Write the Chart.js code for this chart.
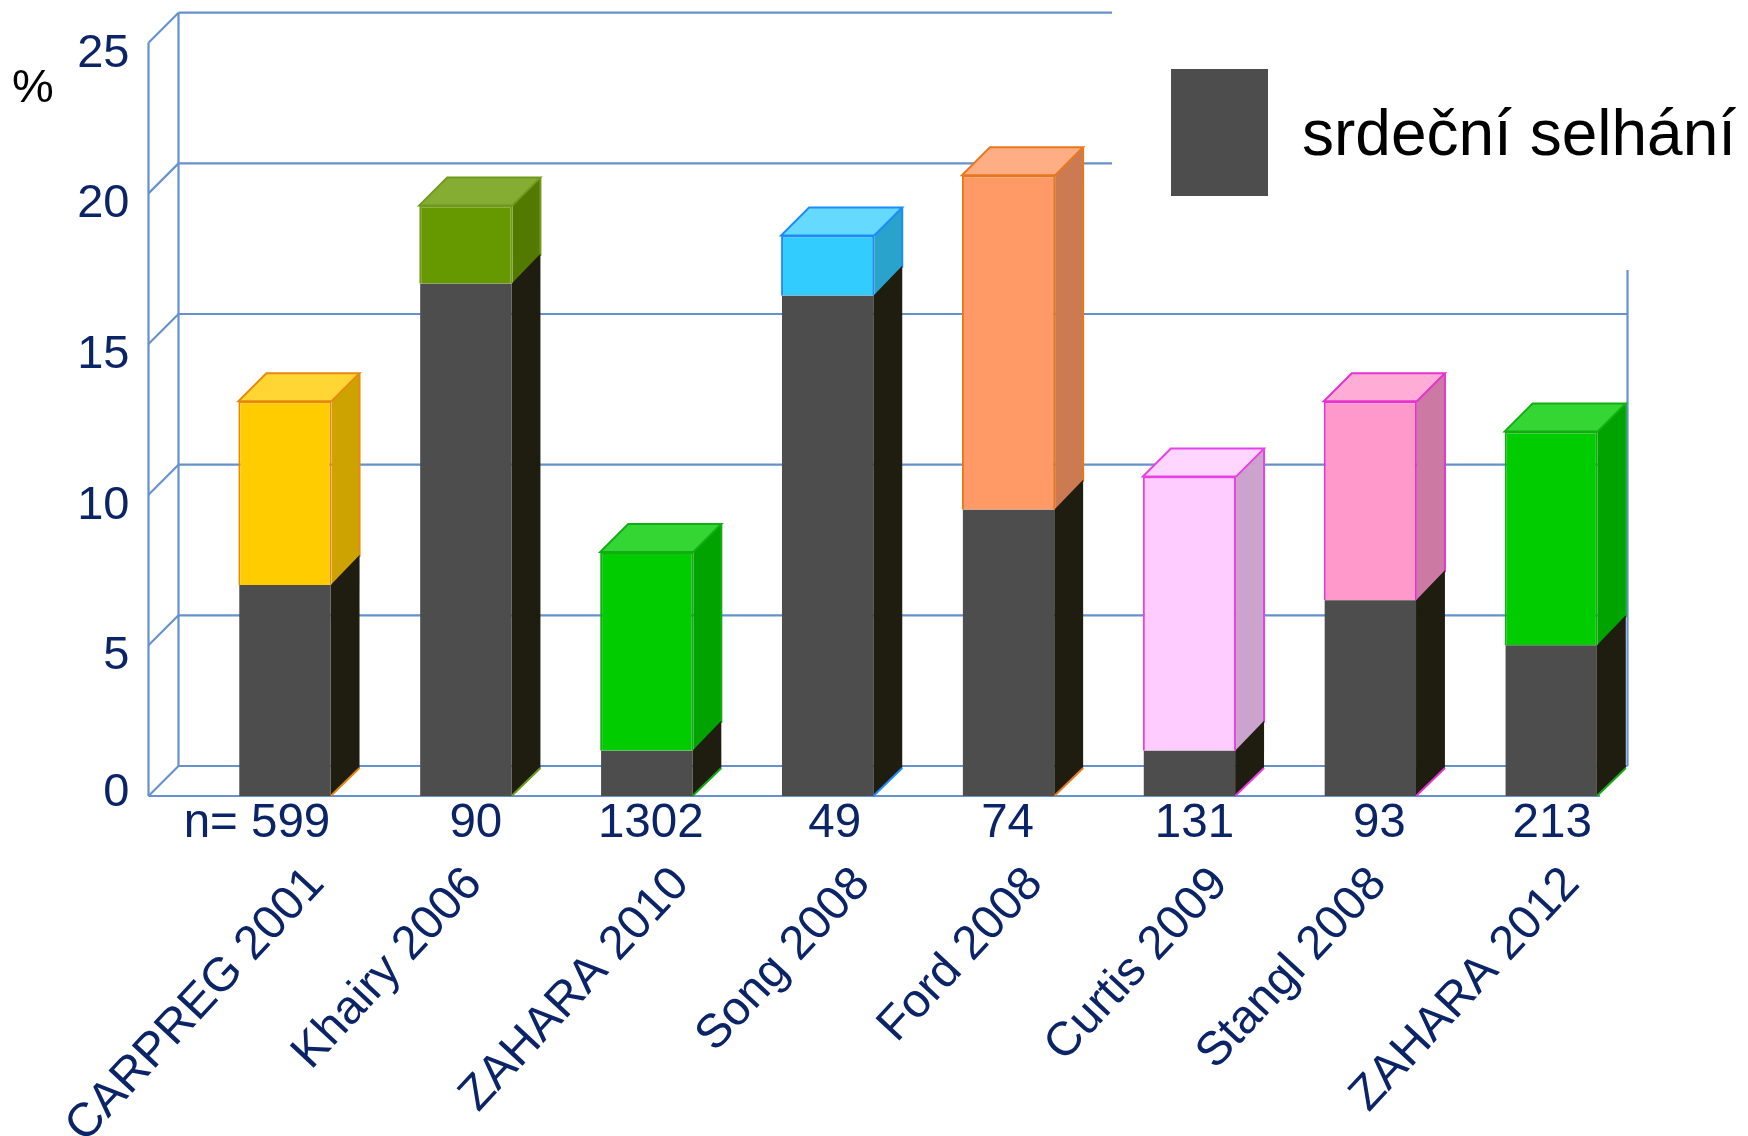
<!DOCTYPE html>
<html lang="cs">
<head>
<meta charset="utf-8">
<title>srdeční selhání</title>
<script src="https://cdn.jsdelivr.net/npm/chart.js@4"></script>
<style>html,body{margin:0;padding:0;background:#fff}canvas{display:block}</style>
</head>
<body>
<canvas id="c" width="1748" height="1136"></canvas>
<script>
const categories = ["CARPREG 2001","Khairy 2006","ZAHARA 2010","Song 2008","Ford 2008","Curtis 2009","Stangl 2008","ZAHARA 2012"];
const sampleSizes = ["n= 599","90","1302","49","74","131","93","213"];
const heartFailure = [7, 17, 1.5, 16.6, 9.5, 1.5, 6.5, 5];
const otherEvents = [6.1, 2.6, 6.6, 2, 11.1, 9.1, 6.6, 7.1];
const yTicks = [0, 5, 10, 15, 20, 25];
const legendLabel = "srdeční selhání";
const unitLabel = "%";

const fronts  = ["#ffcc00","#669900","#00cc00","#33ccff","#ff9966","#ffccff","#ff99cc","#00cc00"];
const tops    = ["#ffd633","#85ad33","#33d633","#66d9ff","#ffad85","#ffd6ff","#ffadd6","#33d633"];
const sides   = ["#cca300","#527a00","#00a300","#29a3cc","#cc7a52","#cca3cc","#cc7aa3","#00a300"];
const borders = ["#e8890c","#6f9a1e","#12ad12","#1a8cff","#e8781e","#e640e6","#e633d0","#12ad12"];
const DARK = "#4d4d4d", DARK_SIDE = "#1f1c10", LINE = "#6591cd", NAVY = "#0b2468";
const FONT = '"Liberation Sans", Arial, sans-serif';

const DEPTH = 28, WALL = 30;
const nNudge = [-28, 10, 4, 7, -1, 5, 9, 1];
const nameNudge = [41, 18, 44, 44, 36, 40, 18, 30];

const solid = {
  id: "solid",
  beforeDatasetsDraw(chart) {
    const { ctx } = chart;
    const ys = chart.scales.y;
    const y0 = ys.getPixelForValue(0);
    const frontX = 148.5, backX = frontX + WALL, rightX = 1627.5;
    ctx.save();
    ctx.strokeStyle = LINE;
    ctx.lineWidth = 2.2;
    const seg = (a, b, c, d) => { ctx.beginPath(); ctx.moveTo(a, b); ctx.lineTo(c, d); ctx.stroke(); };
    yTicks.forEach(v => {
      const y = ys.getPixelForValue(v);
      seg(frontX, y, backX, y - WALL);
      seg(backX, y - WALL, rightX, y - WALL);
    });
    seg(frontX, ys.getPixelForValue(25), frontX, y0);
    seg(backX, ys.getPixelForValue(25) - WALL, backX, y0 - WALL);
    seg(rightX, 270, rightX, y0 - WALL);
    seg(frontX, y0, 1600, y0);
    ctx.fillStyle = "#fff";
    ctx.fillRect(1112, 0, 640, 270);

    // legend
    ctx.fillStyle = DARK;
    ctx.fillRect(1171, 69, 97, 127);
    ctx.fillStyle = "#000";
    ctx.font = "64px " + FONT;
    ctx.textAlign = "left";
    ctx.textBaseline = "alphabetic";
    ctx.fillText(legendLabel, 1302, 155);
    ctx.font = "47px " + FONT;
    ctx.fillText(unitLabel, 12, 102);

    // side and top faces
    const poly = (pts, fill) => {
      ctx.fillStyle = fill;
      ctx.beginPath();
      pts.forEach((p, i) => i ? ctx.lineTo(p[0], p[1]) : ctx.moveTo(p[0], p[1]));
      ctx.closePath();
      ctx.fill();
    };
    const darkMeta = chart.getDatasetMeta(0).data, colMeta = chart.getDatasetMeta(1).data;
    colMeta.forEach((bar, i) => {
      const r = bar.x + bar.width / 2, l = bar.x - bar.width / 2;
      const dark = darkMeta[i], dr = dark.x + dark.width / 2;
      const sideR = r + DEPTH;
      poly([[r, bar.y], [sideR, bar.y - DEPTH], [sideR, bar.base - DEPTH], [r, bar.base]], sides[i]);
      poly([[l, bar.y], [l + DEPTH, bar.y - DEPTH], [sideR, bar.y - DEPTH], [r, bar.y]], tops[i]);
      ctx.strokeStyle = borders[i];
      ctx.lineWidth = 2;
      ctx.beginPath();
      ctx.moveTo(r, bar.y);
      ctx.lineTo(l, bar.y);
      ctx.lineTo(l + DEPTH, bar.y - DEPTH);
      ctx.lineTo(sideR, bar.y - DEPTH);
      ctx.lineTo(r, bar.y);
      ctx.moveTo(sideR, bar.y - DEPTH);
      ctx.lineTo(sideR, bar.base - DEPTH);
      ctx.stroke();
      poly([[dr, dark.y], [sideR, dark.y - DEPTH - 2], [sideR, dark.base - DEPTH], [dr, dark.base]], DARK_SIDE);
      ctx.beginPath();
      ctx.moveTo(dr, dark.base);
      ctx.lineTo(sideR, dark.base - DEPTH);
      ctx.stroke();
    });
    ctx.restore();
  },
  afterDraw(chart) {
    const { ctx } = chart;
    const xs = chart.scales.x, ys = chart.scales.y;
    const y0 = ys.getPixelForValue(0);
    ctx.save();
    ctx.fillStyle = NAVY;
    ctx.textBaseline = "alphabetic";
    ctx.font = "47.5px " + FONT;
    ctx.textAlign = "center";
    sampleSizes.forEach((s, i) => ctx.fillText(s, xs.getPixelForValue(i) + nNudge[i], y0 + 41));
    ctx.textAlign = "right";
    ctx.font = "47.5px " + FONT;
    categories.forEach((s, i) => {
      ctx.save();
      ctx.translate(xs.getPixelForValue(i) + nameNudge[i], y0 + 89);
      ctx.rotate(-47 * Math.PI / 180);
      ctx.fillText(s, 0, 0);
      ctx.restore();
    });
    ctx.restore();
  }
};

new Chart(document.getElementById("c"), {
  type: "bar",
  plugins: [solid],
  data: {
    labels: categories,
    datasets: [
      { label: legendLabel, data: heartFailure, backgroundColor: DARK, barPercentage: 0.505, categoryPercentage: 1, stack: "s" },
      { label: "", data: otherEvents, backgroundColor: fronts, borderColor: borders, borderWidth: 2, barPercentage: 0.515, categoryPercentage: 1, stack: "s" }
    ]
  },
  options: {
    responsive: false,
    animation: false,
    layout: { padding: { left: 0, right: 106.3, top: 42.7, bottom: 0 } },
    plugins: { legend: { display: false }, tooltip: { enabled: false }, title: { display: false } },
    scales: {
      x: {
        stacked: true,
        grid: { display: false, drawTicks: false },
        border: { display: false },
        ticks: { display: false },
        afterFit(s) { s.height = 340; }
      },
      y: {
        stacked: true,
        min: 0, max: 25,
        grid: { display: false, drawTicks: false },
        border: { display: false },
        afterFit(s) { s.width = 194.5; s.paddingTop = 0; s.paddingBottom = 0; },
        afterBuildTicks(s) { s.ticks = yTicks.map(v => ({ value: v })); },
        ticks: {
          color: NAVY,
          padding: 65,
          labelOffset: 11,
          autoSkip: false,
          callback: v => v === 0 ? ["0", ""] : String(v),
          font: ctx => ({ family: FONT, size: 47, lineHeight: (ctx.tick && ctx.tick.value === 0) ? "28px" : 1.2 })
        }
      }
    }
  }
});
</script>
</body>
</html>
